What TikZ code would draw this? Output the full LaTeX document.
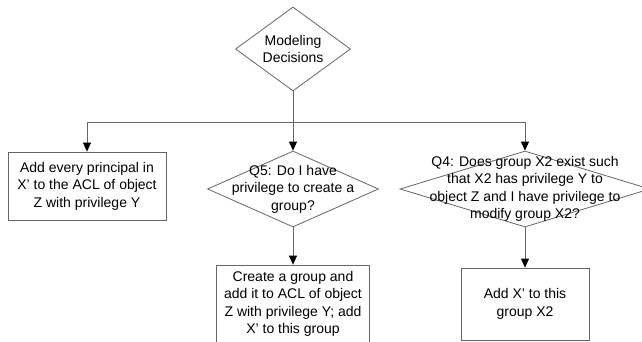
\documentclass[tikz,border=0pt]{standalone}
\usepackage{fontspec}
\setmainfont{Liberation Sans}
\usetikzlibrary{shapes.geometric,arrows.meta}
\begin{document}
\begin{tikzpicture}[x=1pt,y=-1pt,
    every node/.style={font=\fontsize{14}{17.5}\selectfont,align=center},
    box/.style={draw=black!60,line width=0.8pt,rectangle,inner sep=0pt},
    decide/.style={draw=black!60,line width=0.8pt,diamond,inner sep=0pt},
    link/.style={draw=black!60,line width=0.8pt,-{Triangle[width=8pt,length=9pt,color=black]}}]
    \clip (0,0) rectangle (642,341);
    \node[decide,minimum width=115pt,minimum height=84pt,label={center:Modeling\\Decisions}] (model) at (293,49) {};
    \coordinate (split) at (293,122);
    \node[box,minimum width=158pt,minimum height=68pt] (addall) at (87,186) {Add every principal in\\X' to the ACL of object\\Z with privilege Y};
    \node[decide,minimum width=171pt,minimum height=76pt,label={center:Q5: Do I have\\privilege to create a\\group?}] (q5) at (293,189) {};
    \node[decide,minimum width=250pt,minimum height=76pt,label={center:Q4: Does group X2 exist such\\that X2 has privilege Y to\\object Z and I have privilege to\\modify group X2?}] (q4) at (525,189) {};
    \node[box,minimum width=153pt,minimum height=78pt] (newgrp) at (293,304) {Create a group and\\add it to ACL of object\\Z with privilege Y; add\\X' to this group};
    \node[box,minimum width=128pt,minimum height=72pt] (addx) at (525,304) {Add X' to this\\group X2};
    % connectors
    \draw[draw=black!60,line width=0.8pt] (model.south) -- (split);
    \draw[link] (split) -| (addall.north);
    \draw[link] (split) -- (q5.north);
    \draw[link] (split) -| (q4.north);
    \draw[link] (q5.south) -- (newgrp.north);
    \draw[link] (q4.south) -- (addx.north);
\end{tikzpicture}
\end{document}
